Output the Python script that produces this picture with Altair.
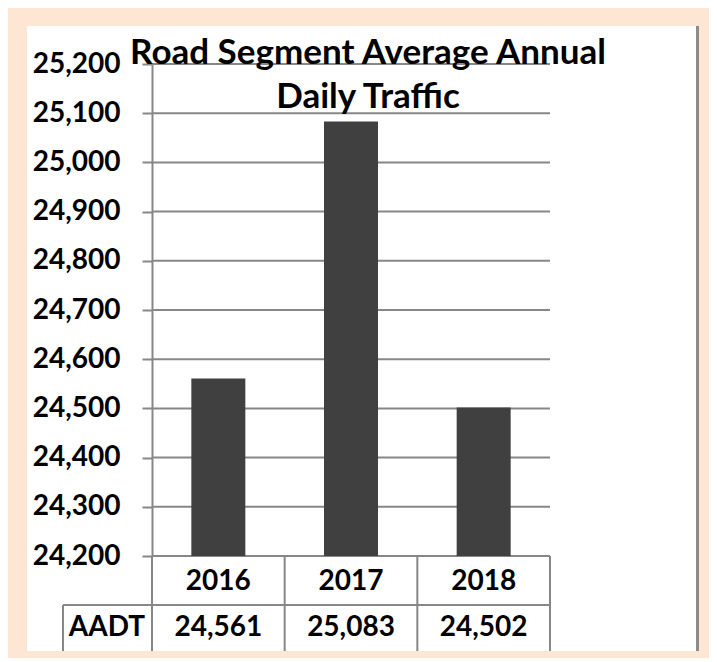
import altair as alt
import pandas as pd

# ---- data ----
years = ["2016", "2017", "2018"]
aadt = [24561, 25083, 24502]
y_ticks = [24200, 24300, 24400, 24500, 24600, 24700, 24800, 24900, 25000, 25100, 25200]
row_label = "AADT"
title_lines = ["Road Segment Average Annual", "Daily Traffic"]

PEACH = "#FDE7D4"
GRID = "#878787"
BAR = "#404040"
FONT = "Lato"
FS = 28

df = pd.DataFrame({"year": years, "aadt": aadt, "label": [row_label] * len(years)})
ticks_df = pd.DataFrame({"tick": y_ticks})

W, H = 398, 492

xscale = alt.Scale(domain=years, paddingInner=0, paddingOuter=0)
yscale = alt.Scale(domain=[y_ticks[0], y_ticks[-1]], zero=False, nice=False, clamp=True)

x_enc = alt.X("year:N", scale=xscale, axis=None)

# white panel
panel = alt.Chart(alt.Data(values=[{"p": 1}])).mark_rect(color="white").encode(
    x=alt.value(-125), x2=alt.value(544), y=alt.value(-38), y2=alt.value(587)
)
panel_edge = alt.Chart(alt.Data(values=[{"p": 1}])).mark_rule(color="#8C8C8C", strokeWidth=3).encode(
    x=alt.value(545.5), y=alt.value(-38), y2=alt.value(587)
)

# gridlines
grid = alt.Chart(ticks_df).mark_rule(color=GRID, strokeWidth=2).encode(
    y=alt.Y("tick:Q", scale=yscale,
            axis=alt.Axis(values=y_ticks, format=",d", title=None, grid=False,
                          domain=True, domainColor=GRID, domainWidth=2,
                          ticks=True, tickSize=10, tickColor=GRID, tickWidth=2,
                          labelFont=FONT, labelFontSize=FS, labelFontWeight="bold",
                          labelColor="black", labelPadding=22, zindex=1)),
    x=alt.value(0), x2=alt.value(W),
)

bars = alt.Chart(df).mark_bar(size=54, color=BAR).encode(
    x=x_enc,
    y=alt.Y("aadt:Q", scale=yscale),
)

# table borders
vlines = alt.Chart(df).mark_rule(color=GRID, strokeWidth=2).encode(
    x=alt.X("year:N", scale=xscale, axis=None, bandPosition=0),
    y=alt.value(H), y2=alt.value(587),
)
vline_end = alt.Chart(df).transform_filter(
    alt.datum.year == years[-1]
).mark_rule(color=GRID, strokeWidth=2).encode(
    x=alt.X("year:N", scale=xscale, axis=None, bandPosition=1),
    y=alt.value(H), y2=alt.value(587),
)
row_line = alt.Chart(alt.Data(values=[{"p": 1}])).mark_rule(color=GRID, strokeWidth=2).encode(
    x=alt.value(-89), x2=alt.value(W), y=alt.value(541)
)
label_vline = alt.Chart(alt.Data(values=[{"p": 1}])).mark_rule(color=GRID, strokeWidth=2).encode(
    x=alt.value(-89), y=alt.value(541), y2=alt.value(587)
)

year_text = alt.Chart(df).mark_text(
    font=FONT, fontSize=FS, fontWeight="bold", color="black", baseline="middle"
).encode(x=x_enc, y=alt.value(518), text="year:N")

value_text = alt.Chart(df).mark_text(
    font=FONT, fontSize=FS, fontWeight="bold", color="black", baseline="middle"
).encode(x=x_enc, y=alt.value(564), text=alt.Text("aadt:Q", format=",d"))

label_text = alt.Chart(df).transform_filter(
    alt.datum.year == years[0]
).mark_text(
    font=FONT, fontSize=FS, fontWeight="bold", color="black", baseline="middle", align="center"
).encode(x=alt.value(-45), y=alt.value(564), text="label:N")

chart = alt.layer(
    panel, panel_edge, grid, bars, vlines, vline_end, row_line, label_vline,
    year_text, value_text, label_text
).properties(
    width=W, height=H,
    background=PEACH,
    padding={"left": 19, "top": 16, "right": 10, "bottom": 5},
    title=alt.TitleParams(
        text=title_lines, font=FONT, fontSize=35, fontWeight="bold", color="black",
        lineHeight=44, anchor="middle", dx=17, offset=-90, zindex=1
    ),
).configure_view(strokeWidth=0)

chart.save("out.html", embed_options={"renderer": "svg", "actions": False})
